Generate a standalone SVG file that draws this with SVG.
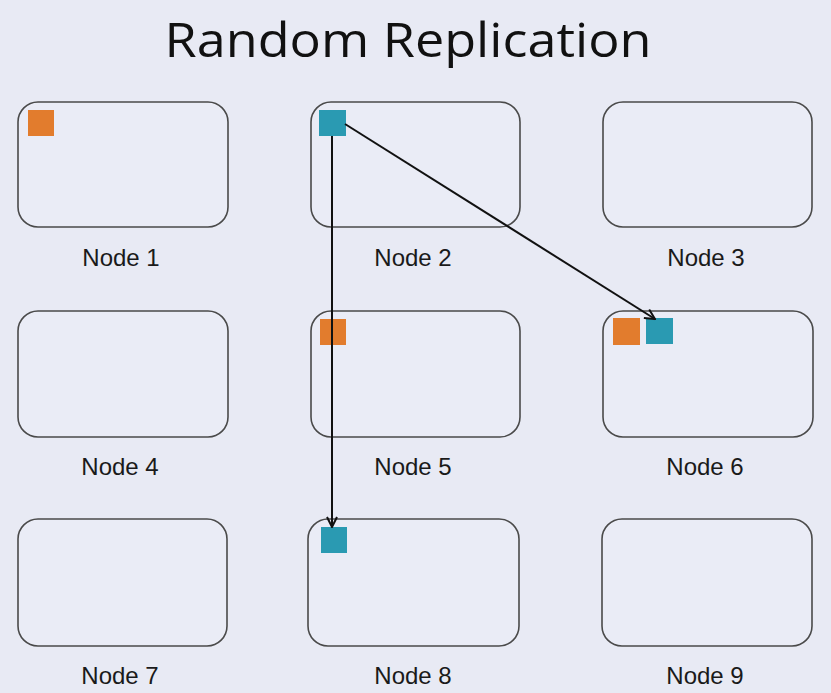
<svg xmlns="http://www.w3.org/2000/svg" width="831" height="693" viewBox="0 0 831 693">
<defs>
<style>
.box{fill:#eaecf6;stroke:#4a4a4a;stroke-width:1.6}
.lbl{font-family:"Liberation Sans",Arial,sans-serif;font-size:24px;fill:#1a1a1a;text-anchor:middle}
.org{fill:#e27c2d}
.teal{fill:#2a9ab2}
.conn{stroke:#111;stroke-width:2;fill:none}
</style>
<marker id="arr" viewBox="0 0 12 12" refX="11" refY="6" markerWidth="12" markerHeight="12" markerUnits="userSpaceOnUse" orient="auto">
<path d="M1,1 L11,6 L1,11" fill="none" stroke="#111" stroke-width="2"/>
</marker>
</defs>
<rect width="831" height="693" fill="#e8eaf4"/>
<text x="408" y="57" font-family="Open Sans, 'Noto Sans', sans-serif" font-size="48" fill="#111" text-anchor="middle" textLength="487" lengthAdjust="spacingAndGlyphs">Random Replication</text>
<g id="node1"><rect class="box" x="18" y="102" width="210" height="125" rx="20"/><rect class="org" x="28" y="110" width="26" height="26"/><text class="lbl" x="121" y="266">Node 1</text></g>
<g id="node2"><rect class="box" x="311" y="102" width="209" height="125" rx="20"/><rect class="teal" x="319" y="110" width="27" height="26"/><text class="lbl" x="413" y="266">Node 2</text></g>
<g id="node3"><rect class="box" x="603" y="102" width="209" height="125" rx="20"/><text class="lbl" x="706" y="266">Node 3</text></g>
<g id="node4"><rect class="box" x="18" y="311" width="210" height="126" rx="20"/><text class="lbl" x="120" y="475">Node 4</text></g>
<g id="node5"><rect class="box" x="311" y="311" width="209" height="126" rx="20"/><rect class="org" x="320" y="319" width="26" height="26"/><text class="lbl" x="413" y="475">Node 5</text></g>
<g id="node6"><rect class="box" x="603" y="311" width="210" height="126" rx="20"/><rect class="org" x="613" y="318" width="27" height="27"/><rect class="teal" x="646" y="318" width="27" height="26"/><text class="lbl" x="705" y="475">Node 6</text></g>
<g id="node7"><rect class="box" x="18" y="519" width="209" height="127" rx="20"/><text class="lbl" x="120" y="684">Node 7</text></g>
<g id="node8"><rect class="box" x="308" y="519" width="211" height="127" rx="20"/><rect class="teal" x="321" y="527" width="26" height="26"/><text class="lbl" x="413" y="684">Node 8</text></g>
<g id="node9"><rect class="box" x="602" y="519" width="210" height="127" rx="20"/><text class="lbl" x="705" y="684">Node 9</text></g>
<g id="connectors">
<line class="conn" x1="345" y1="124" x2="655" y2="319" marker-end="url(#arr)"/>
<line class="conn" x1="332" y1="136" x2="332" y2="527" marker-end="url(#arr)"/>
</g>
</svg>
